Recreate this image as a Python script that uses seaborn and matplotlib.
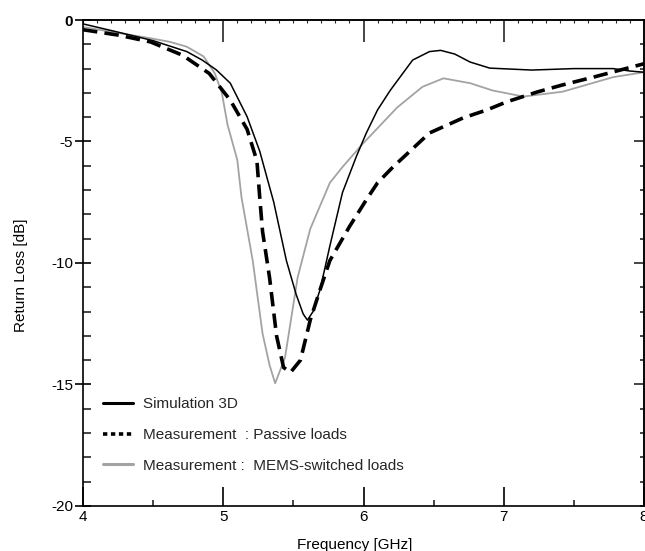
import matplotlib
matplotlib.use("Agg")
import matplotlib.pyplot as plt
from matplotlib.lines import Line2D
from matplotlib.ticker import MultipleLocator, FixedLocator, NullFormatter
import pandas as pd
import seaborn as sns

# Simulation 3D
freq_sim = [4.0, 4.25, 4.5, 4.74, 4.85, 4.95, 5.05, 5.17, 5.26, 5.36, 5.45, 5.52, 5.57, 5.6,
            5.64, 5.69, 5.76, 5.85, 5.95, 6.02, 6.1, 6.19, 6.35, 6.47, 6.55, 6.65, 6.76,
            6.9, 7.2, 7.5, 7.78, 7.9, 8.0]
rl_sim = [-0.16, -0.5, -0.85, -1.3, -1.65, -2.05, -2.6, -3.98, -5.4, -7.5, -9.9, -11.3, -12.1, -12.35,
          -12.0, -11.1, -9.3, -7.1, -5.6, -4.65, -3.7, -2.9, -1.65, -1.3, -1.25, -1.4, -1.73,
          -1.98, -2.06, -2.0, -2.0, -2.1, -2.15]

# Measurement : Passive loads
freq_pas = [4.0, 4.25, 4.48, 4.71, 4.9, 5.05, 5.17, 5.24, 5.26, 5.28, 5.33, 5.38, 5.43,
            5.48, 5.55, 5.62, 5.69, 5.76, 5.9, 6.02, 6.1, 6.21, 6.47, 6.71, 6.88,
            7.02, 7.24, 7.42, 7.64, 7.83, 8.0]
rl_pas = [-0.4, -0.62, -0.9, -1.45, -2.2, -3.3, -4.5, -5.8, -7.3, -8.7, -10.6, -13.0, -14.3,
          -14.5, -14.0, -12.35, -11.1, -9.9, -8.5, -7.4, -6.7, -6.05, -4.65, -4.03, -3.7,
          -3.37, -2.96, -2.67, -2.35, -2.06, -1.8]

# Measurement : MEMS-switched loads
freq_mems = [4.0, 4.25, 4.48, 4.62, 4.74, 4.86, 4.94, 4.99, 5.03, 5.1, 5.13, 5.21, 5.28, 5.33,
             5.37, 5.44, 5.53, 5.62, 5.76, 5.85, 6.0, 6.24, 6.42, 6.57, 6.76, 6.92, 7.14,
             7.42, 7.78, 8.0]
rl_mems = [-0.29, -0.53, -0.75, -0.9, -1.1, -1.5, -2.2, -3.0, -4.3, -5.76, -7.3, -9.9, -12.9, -14.2,
           -14.95, -13.9, -10.6, -8.6, -6.7, -6.05, -5.06, -3.6, -2.75, -2.4, -2.6, -2.9, -3.15,
           -2.95, -2.35, -2.15]

labels = ["Simulation 3D", "Measurement  : Passive loads", "Measurement :  MEMS-switched loads"]
yticks = [-20, -15, -10, -5, 0]
ytick_labels = ["-20", "-15", "-10", "-5", "0"]
xticks = [4, 5, 6, 7, 8]
GRAY = "#a3a3a3"

sns.set_theme(style="white")
plt.rcParams["font.family"] = ["Liberation Sans", "DejaVu Sans"]
plt.rcParams["axes.unicode_minus"] = False

fig = plt.figure(figsize=(6.45, 5.51), dpi=100)
ax = fig.add_axes([0.1287, 0.0817, 0.8698, 0.882])

sim = pd.DataFrame({"f": freq_sim, "rl": rl_sim})
pas = pd.DataFrame({"f": freq_pas, "rl": rl_pas})
mems = pd.DataFrame({"f": freq_mems, "rl": rl_mems})

sns.lineplot(data=mems, x="f", y="rl", ax=ax, color=GRAY, lw=1.3, sort=False)
sns.lineplot(data=sim, x="f", y="rl", ax=ax, color="black", lw=1.1, sort=False)
sns.lineplot(data=pas, x="f", y="rl", ax=ax, color="black", lw=2.6, sort=False,
             linestyle=(0, (4, 2)))

ax.set_xlim(4, 8)
ax.set_ylim(-20, 0)
for s in ax.spines.values():
    s.set_color("black")
    s.set_linewidth(1.2)

ax.set_xticks(xticks, [str(t) for t in xticks])
ax.xaxis.set_minor_locator(MultipleLocator(0.5))
ax.set_yticks(yticks, ytick_labels)
ax.yaxis.set_minor_locator(MultipleLocator(1))
ax.get_yticklabels()[-1].set_fontweight("bold")
ax.tick_params(axis="x", which="major", direction="in", length=14, width=1.2,
               bottom=True, labelsize=11, pad=3, colors="black")
ax.tick_params(axis="x", which="minor", direction="in", length=4, width=1.2, bottom=True)
ax.tick_params(axis="y", which="major", direction="inout", length=12, width=1.2,
               left=True, labelsize=11, pad=1, colors="black")
ax.tick_params(axis="y", which="minor", direction="in", length=6, width=1.2, left=True)

top = ax.secondary_xaxis("top")
top.xaxis.set_major_locator(FixedLocator([5, 6, 7]))
top.xaxis.set_minor_locator(MultipleLocator(0.1))
top.xaxis.set_major_formatter(NullFormatter())
top.tick_params(which="major", direction="in", length=16, width=1.2)
top.tick_params(which="minor", direction="in", length=2.5, width=0.8)

right = ax.secondary_yaxis("right")
right.yaxis.set_major_locator(FixedLocator([-15, -10, -5]))
right.yaxis.set_minor_locator(MultipleLocator(1))
right.yaxis.set_major_formatter(NullFormatter())
right.tick_params(which="major", direction="in", length=7, width=1.2)
right.tick_params(which="minor", direction="in", length=3, width=1.2)

ax.set_xlabel("Frequency [GHz]", fontsize=11, color="black")
ax.set_ylabel("Return Loss [dB]", fontsize=11, color="black")
ax.xaxis.set_label_coords(0.485, -0.066)
ax.yaxis.set_label_coords(-0.098, 0.475)

handles = [
    Line2D([], [], color="black", lw=2.2),
    Line2D([], [], color="black", lw=2.6, linestyle=(0, (1.2, 1))),
    Line2D([], [], color=GRAY, lw=2.2),
]
ax.legend(handles, labels, loc="lower left", bbox_to_anchor=(0.012, 0.04),
          frameon=False, fontsize=11, handlelength=1.9, labelspacing=1.1,
          handletextpad=0.7)

fig.savefig("out.png", dpi=100)
